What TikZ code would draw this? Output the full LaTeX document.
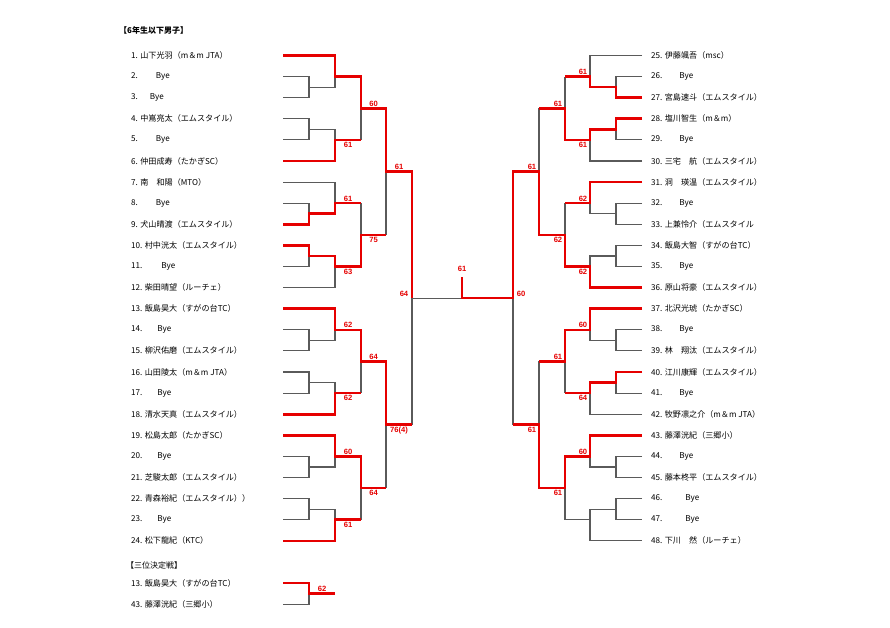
\documentclass[tikz,border=0pt]{standalone}
\usepackage{fontspec}
\setmainfont{Noto Sans CJK JP}
\newfontfamily\scorefont{Liberation Sans}
\usepackage{tikz}
\definecolor{bred}{RGB}{230,0,0}
\definecolor{lgray}{RGB}{90,90,90}
\tikzset{
  win/.style={bred,line width=2.6pt},
  lose/.style={lgray,line width=1.1pt},
  player/.style={anchor=west,inner sep=0pt,font=\fontsize{8.1}{9}\selectfont},
  heading/.style={anchor=west,inner sep=0pt,font=\fontsize{8}{9}\selectfont},
  score/.style={text=bred,inner sep=0.6pt,font=\scorefont\fontsize{7.6}{8}\selectfont\bfseries},
  scoreup/.style={score,anchor=south,yshift=1.2pt},
  scoredn/.style={score,anchor=north,yshift=-1.5pt},
}

\begin{document}
\begin{tikzpicture}[x=1pt,y=-1pt]
\useasboundingbox (0,0) rectangle (890,628);
\fill[white] (0,0) rectangle (890,628);
\node[heading,font=\fontsize{8}{9}\selectfont\bfseries] (title) at (119,30) {【6年生以下男子】};
\node[heading] (thirdtitle) at (126,565) {【三位決定戦】};

\begin{scope}[y=-21.1pt,yshift=-34.4pt]
% players, left
\foreach \i/\t in {
  1/{1. 山下光羽（m＆m JTA）}, 2/{2.\hspace{18pt}Bye}, 3/{3.\hspace{12pt}Bye},
  4/{4. 中嶌亮太（エムスタイル）}, 5/{5.\hspace{18pt}Bye}, 6/{6. 仲田成寿（たかぎSC）},
  7/{7. 南　和陽（MTO）}, 8/{8.\hspace{18pt}Bye}, 9/{9. 犬山晴渡（エムスタイル）},
  10/{10. 村中洸太（エムスタイル）}, 11/{11.\hspace{19pt}Bye}, 12/{12. 柴田晴望（ルーチェ）},
  13/{13. 飯島昊大（すがの台TC）}, 14/{14.\hspace{15pt}Bye}, 15/{15. 柳沢佑磨（エムスタイル）},
  16/{16. 山田陵太（m＆m JTA）}, 17/{17.\hspace{15pt}Bye}, 18/{18. 清水天真（エムスタイル）},
  19/{19. 松島太郎（たかぎSC）}, 20/{20.\hspace{15pt}Bye}, 21/{21. 芝駿太郎（エムスタイル）},
  22/{22. 青森裕紀（エムスタイル））}, 23/{23.\hspace{15pt}Bye}, 24/{24. 松下龍紀（KTC）}}
  \node[player] (p\i) at (131,\i) {\t};
% players, right
\foreach \i/\t [evaluate=\i as \r using \i-24] in {
  25/{25. 伊藤颯吾（msc）}, 26/{26.\hspace{17pt}Bye}, 27/{27. 宮島速斗（エムスタイル）},
  28/{28. 塩川智生（m＆m）}, 29/{29.\hspace{17pt}Bye}, 30/{30. 三宅　航（エムスタイル）},
  31/{31. 洞　瑛温（エムスタイル）}, 32/{32.\hspace{17pt}Bye}, 33/{33. 上兼怜介（エムスタイル},
  34/{34. 飯島大智（すがの台TC）}, 35/{35.\hspace{17pt}Bye}, 36/{36. 原山将豪（エムスタイル）},
  37/{37. 北沢光琥（たかぎSC）}, 38/{38.\hspace{17pt}Bye}, 39/{39. 林　翔汰（エムスタイル）},
  40/{40. 江川康輝（エムスタイル）}, 41/{41.\hspace{17pt}Bye}, 42/{42. 牧野凛之介（m＆m JTA）},
  43/{43. 藤澤洸紀（三郷小）}, 44/{44.\hspace{17pt}Bye}, 45/{45. 藤本柊平（エムスタイル）},
  46/{46.\hspace{23pt}Bye}, 47/{47.\hspace{23pt}Bye}, 48/{48. 下川　然（ルーチェ）}}
  \node[player] (p\i) at (651,\r) {\t};
% third place
\node[player] (t13) at (131,26) {13. 飯島昊大（すがの台TC）};
\node[player] (t43) at (131,27) {43. 藤澤洸紀（三郷小）};

% left bracket, lost
\draw[lose] (283,2) -| (309,3) -- (283,3)  (309,2.5) -| (335,2);
\draw[lose] (283,4) -| (309,5) -- (283,5)  (309,4.5) -| (335,5);
\draw[lose] (361,3.5) -- (361,5);
\draw[lose] (283,7) -| (335,8)  (283,8) -| (309,8.5);
\draw[lose] (309,10.5) |- (283,11)  (283,12) -| (335,11);
\draw[lose] (361,8) -- (361,9.5)  (386,6.5) -- (386,9.5);
\draw[lose] (283,14) -| (309,15) -- (283,15)  (309,14.5) -| (335,14);
\draw[lose] (283,16) -| (309,17) -- (283,17)  (309,16.5) -| (335,17);
\draw[lose] (361,15.5) -- (361,17);
\draw[lose] (283,20) -| (309,21) -- (283,21)  (309,20.5) -| (335,20);
\draw[lose] (283,22) -| (309,23) -- (283,23)  (309,22.5) -| (335,23);
\draw[lose] (361,21.5) -- (361,23)  (386,18.5) -- (386,21.5);
\draw[lose] (412,12.5) -- (412,18.5)  (412,12.5) -- (462,12.5);
% left bracket, won
\draw[win] (283,1) -| (335,2) -| (361,3.5) -| (386,6.5) -| (412,12.5);
\draw[win] (283,6) -| (335,5) -- (361,5);
\draw[win] (283,9) -| (309,8.5) -| (335,8) -- (361,8);
\draw[win] (283,10) -| (309,10.5) -| (335,11) -| (361,9.5) -- (386,9.5);
\draw[win] (283,13) -| (335,14) -| (361,15.5) -| (386,18.5) -- (412,18.5);
\draw[win] (283,18) -| (335,17) -- (361,17);
\draw[win] (283,19) -| (335,20) -| (361,21.5) -- (386,21.5);
\draw[win] (283,24) -| (335,23) -- (361,23);

% right bracket, lost
\draw[lose] (642,1) -| (590,2)  (642,2) -| (616,2.5);
\draw[lose] (616,4.5) |- (642,5)  (642,6) -| (590,5);
\draw[lose] (565,2) -- (565,3.5);
\draw[lose] (642,8) -| (616,9) -- (642,9)  (616,8.5) -| (590,8);
\draw[lose] (642,10) -| (616,11) -- (642,11)  (616,10.5) -| (590,11);
\draw[lose] (565,8) -- (565,9.5)  (539,3.5) -- (539,6.5);
\draw[lose] (642,14) -| (616,15) -- (642,15)  (616,14.5) -| (590,14);
\draw[lose] (616,16.5) |- (642,17)  (642,18) -| (590,17);
\draw[lose] (565,15.5) -- (565,17);
\draw[lose] (642,20) -| (616,21) -- (642,21)  (616,20.5) -| (590,20);
\draw[lose] (642,22) -| (616,23) -- (642,23)  (616,22.5) -| (590,24) -- (642,24)  (590,23) -- (565,23);
\draw[lose] (565,21.5) -- (565,23)  (539,15.5) -- (539,18.5)  (513,12.5) -- (513,18.5);
% right bracket, won
\draw[win] (642,3) -| (616,2.5) -| (590,2) -- (565,2);
\draw[win] (642,4) -| (616,4.5) -| (590,5) -| (565,3.5) -- (539,3.5);
\draw[win] (642,7) -| (590,8) -- (565,8);
\draw[win] (642,12) -| (590,11) -| (565,9.5) -| (539,6.5) -| (513,12.5) -- (462,12.5) -- (462,11.5);
\draw[win] (642,13) -| (590,14) -| (565,15.5) -- (539,15.5);
\draw[win] (642,16) -| (616,16.5) -| (590,17) -- (565,17);
\draw[win] (642,19) -| (590,20) -| (565,21.5) -| (539,18.5) -- (513,18.5);

% third place match
\draw[lose] (283,27) -| (309,26.5);
\draw[win] (283,26) -| (309,26.5) -- (335,26.5);

% scores, left
\node[scoredn] (l5) at (348,5) {61};
\node[scoreup] (l8) at (348,8) {61};
\node[scoredn] (l11) at (348,11) {63};
\node[scoreup] (l14) at (348,14) {62};
\node[scoredn] (l17) at (348,17) {62};
\node[scoreup] (l20) at (348,20) {60};
\node[scoredn] (l23) at (348,23) {61};
\node[scoreup] (l35) at (373.5,3.5) {60};
\node[scoredn] (l95) at (373.5,9.5) {75};
\node[scoreup] (l155) at (373.5,15.5) {64};
\node[scoredn] (l215) at (373.5,21.5) {64};
\node[scoreup] (l65) at (399,6.5) {61};
\node[scoredn] (l185) at (399,18.5) {76(4)};
\node[scoreup,anchor=south east] (lfin) at (409,12.5) {64};
% scores, right
\node[scoreup,anchor=south east] (r2) at (588,2) {61};
\node[scoredn,anchor=north east] (r5) at (588,5) {61};
\node[scoreup,anchor=south east] (r8) at (588,8) {62};
\node[scoredn,anchor=north east] (r11) at (588,11) {62};
\node[scoreup,anchor=south east] (r14) at (588,14) {60};
\node[scoredn,anchor=north east] (r17) at (588,17) {64};
\node[scoreup,anchor=south east] (r20) at (588,20) {60};
\node[scoreup,anchor=south east] (r35) at (563,3.5) {61};
\node[scoredn,anchor=north east] (r95) at (563,9.5) {62};
\node[scoreup,anchor=south east] (r155) at (563,15.5) {61};
\node[scoredn,anchor=north east] (r215) at (563,21.5) {61};
\node[scoreup,anchor=south east] (r65) at (537,6.5) {61};
\node[scoredn,anchor=north east] (r185) at (537,18.5) {61};
\node[scoreup,anchor=south west] (rfin) at (516,12.5) {60};
\node[scoreup,yshift=3pt] (champ) at (462,11.5) {61};
\node[scoreup] (third) at (322,26.5) {62};
\end{scope}
\end{tikzpicture}
\end{document}
